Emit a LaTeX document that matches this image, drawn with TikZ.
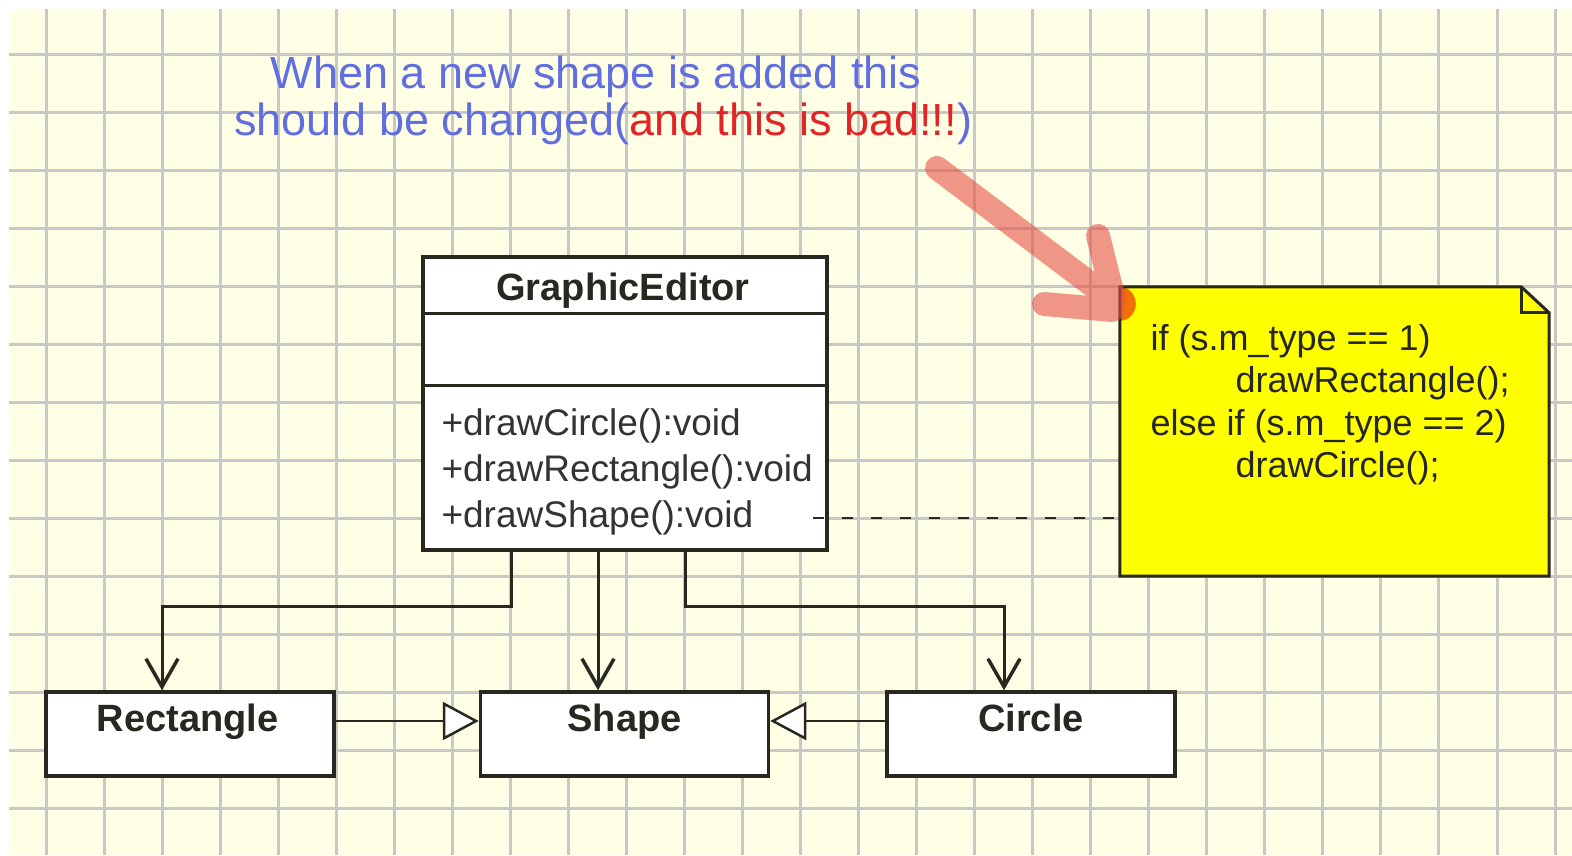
\documentclass[tikz,border=0pt]{standalone}
\usepackage{fontspec}
\setmainfont{Liberation Sans}
\usetikzlibrary{arrows.meta}
\definecolor{paper}{RGB}{255,255,230}
\definecolor{gridgray}{RGB}{200,200,200}
\definecolor{ink}{RGB}{40,40,32}
\definecolor{headblue}{RGB}{96,110,224}
\definecolor{badred}{RGB}{228,36,36}
\definecolor{noteyellow}{RGB}{255,255,0}
\definecolor{marker}{RGB}{230,80,72}
\definecolor{blob}{RGB}{240,112,0}
\begin{document}
\begin{tikzpicture}
[x=1pt,y=-1pt,
classbox/.style={draw=ink,line width=3.5pt,fill=white,minimum width=288pt,minimum height=84pt,inner sep=0pt},
classname/.style={anchor=base,font=\fontsize{38}{46}\selectfont\bfseries,text=ink},
method/.style={anchor=base west,font=\fontsize{37}{44}\selectfont,text=black!80},
notetext/.style={anchor=base west,font=\fontsize{36}{42}\selectfont,text=black!85},
heading/.style={anchor=base,font=\fontsize{45}{47}\selectfont,text=headblue},
assoc/.style={draw=ink,line width=3pt,-{Straight Barb[length=28pt,width=32pt,line width=3.5pt]}},
gen/.style={draw=ink,line width=2.5pt,-{Triangle[length=36pt,width=38pt,fill=white,line width=2.5pt]}}]
\useasboundingbox (0,0) rectangle (1572,855);
% paper
\fill [paper] (9,9) rectangle (1572,855);
\foreach \i in {0,...,26}
  \draw [gridgray,line width=3pt] ({46+58.04*\i},9) -- ({46+58.04*\i},855);
\foreach \j in {0,...,13}
  \draw [gridgray,line width=3pt] (9,{54+58*\j}) -- (1572,{54+58*\j});
% heading
\node (head1) [heading] at (596,88) {When a new shape is added this};
\node (head2) [heading] at (603,135) {should be changed(\textcolor{badred}{and this is bad!!!})};
% GraphicEditor
\node (ge) [draw=ink,line width=3.5pt,fill=white,minimum width=404pt,minimum height=293pt,inner sep=0pt] at (625,403.5) {};
\draw [ink,line width=3.5pt] ([yshift=-58pt]ge.north west) -- ([yshift=-58pt]ge.north east);
\draw [ink,line width=3.5pt] ([yshift=-130pt]ge.north west) -- ([yshift=-130pt]ge.north east);
\node (getitle) [classname] at (623,300) {GraphicEditor};
\node (m1) [method] at (438,435) {+drawCircle():void};
\node (m2) [method] at (438,481) {+drawRectangle():void};
\node (m3) [method] at (438,527) {+drawShape():void};
% shapes
\node (rect) [classbox] at (190,734) {};
\node (shape) [classbox] at (624.5,734) {};
\node (circ) [classbox] at (1031,734) {};
\node (rectname) [classname] at ([yshift=-41pt,xshift=-2.5pt]rect.north) {Rectangle};
\node (shapename) [classname] at ([yshift=-41pt]shape.north) {Shape};
\node (circname) [classname] at ([yshift=-41pt]circ.north) {Circle};
\draw [assoc] ([xshift=-114pt]ge.south) -- ++(0,55) -| ([xshift=-28pt]rect.north);
\draw [assoc] ([xshift=-27pt]ge.south) -- ([xshift=-27pt]ge.south |- shape.north);
\draw [assoc] ([xshift=60pt]ge.south) -- ++(0,55) -| ([xshift=-27pt]circ.north);
\draw [gen] ([yshift=13pt]rect.east) -- ([yshift=13pt]shape.west);
\draw [gen] ([yshift=13pt]circ.west) -- ([yshift=13pt]shape.east);
% note
\node (note) [minimum width=429pt,minimum height=289pt,inner sep=0pt] at (1334.5,431.5) {};
\fill [noteyellow] (note.north west) -- ([xshift=-28pt]note.north east) -- ([yshift=-26pt]note.north east) -- (note.south east) -- (note.south west) -- cycle;
\begin{scope}
\clip (note.north west) rectangle ([xshift=30pt,yshift=-40pt]note.north west);
\fill [blob] ([yshift=-17pt]note.north west) ellipse (16 and 17);
\end{scope}
\draw [ink,line width=3pt] (note.north west) -- ([xshift=-28pt]note.north east) -- ([yshift=-26pt]note.north east) -- (note.south east) -- (note.south west) -- cycle;
\draw [ink,line width=3pt] ([xshift=-28pt]note.north east) |- ([yshift=-26pt]note.north east);
\node (n1) [notetext] at (1147,350) {if (s.m\_type == 1)};
\node (n2) [notetext] at (1232,392) {drawRectangle();};
\node (n3) [notetext] at (1147,435) {else if (s.m\_type == 2)};
\node (n4) [notetext] at (1232,477) {drawCircle();};
\coordinate (dashstart) at (813,518);
\draw [ink,line width=2.5pt,dash pattern=on 11pt off 18pt] (dashstart) -- (dashstart -| note.west);
% red marker arrow
\draw [marker,opacity=0.6,line width=24pt,line cap=round,line join=round]
  (937,168) -- (1112,300) (1098,236) -- (1114,300) (1044,304) -- (1112,310);
\end{tikzpicture}
\end{document}
